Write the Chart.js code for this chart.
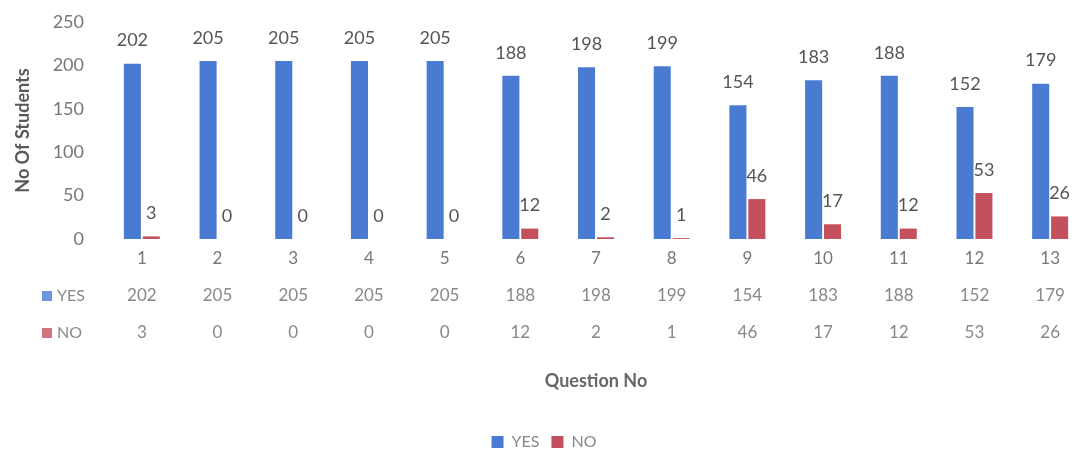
<!DOCTYPE html>
<html>
<head>
<meta charset="utf-8">
<script src="https://cdn.jsdelivr.net/npm/chart.js@4"></script>
<style>
html,body{margin:0;padding:0;background:#fff;}
#wrap{width:1088px;height:460px;position:relative;}
</style>
</head>
<body>
<div id="wrap"><canvas id="c" width="1088" height="460"></canvas></div>
<script>
const questions = ["1","2","3","4","5","6","7","8","9","10","11","12","13"];
const yesValues = [202,205,205,205,205,188,198,199,154,183,188,152,179];
const noValues  = [3,0,0,0,0,12,2,1,46,17,12,53,26];
const yTicks = [0,50,100,150,200,250];
const seriesNames = ["YES","NO"];

const BLUE = '#4a7bd2';
const RED = '#c4505e';
const FONT = 'Lato, "Open Sans", sans-serif';

const dataLabels = {
  id: 'dataLabels',
  afterDatasetsDraw(chart) {
    const ctx = chart.ctx;
    ctx.save();
    ctx.font = '18px ' + FONT;
    ctx.fillStyle = '#555';
    ctx.textAlign = 'center';
    ctx.textBaseline = 'middle';
    chart.data.datasets.forEach((ds, di) => {
      const meta = chart.getDatasetMeta(di);
      meta.data.forEach((el, i) => {
        ctx.fillText(String(ds.data[i]), el.x, el.y - 23);
      });
    });
    ctx.restore();
  }
};

const dataTable = {
  id: 'dataTable',
  afterDraw(chart) {
    const ctx = chart.ctx;
    const xs = chart.scales.x;
    const rows = [
      {name: seriesNames[0], color: BLUE, vals: yesValues, y: 296},
      {name: seriesNames[1], color: RED, vals: noValues, y: 333}
    ];
    ctx.save();
    ctx.textBaseline = 'middle';
    rows.forEach(r => {
      ctx.fillStyle = r.color;
      ctx.globalAlpha = 0.8;
      ctx.fillRect(42, r.y - 5, 10, 10);
      ctx.globalAlpha = 1;
      ctx.fillStyle = '#888';
      ctx.font = '16px ' + FONT;
      ctx.textAlign = 'left';
      ctx.fillText(r.name, 57, r.y);
      ctx.textAlign = 'center';
      ctx.font = '17px ' + FONT;
      r.vals.forEach((v, i) => {
        ctx.fillText(String(v), xs.getPixelForValue(i), r.y);
      });
    });
    ctx.restore();
  }
};

new Chart(document.getElementById('c'), {
  type: 'bar',
  data: {
    labels: questions,
    datasets: [
      {label: seriesNames[0], data: yesValues, backgroundColor: BLUE},
      {label: seriesNames[1], data: noValues, backgroundColor: RED}
    ]
  },
  options: {
    responsive: false,
    animation: false,
    maintainAspectRatio: false,
    layout: {padding: {top: 22, left: 0, right: 0, bottom: 0}},
    datasets: {bar: {categoryPercentage: 0.5, barPercentage: 0.9}},
    plugins: {
      tooltip: {enabled: false},
      legend: {
        position: 'bottom',
        labels: {
          boxWidth: 12, boxHeight: 12, padding: 12,
          color: '#888',
          font: {family: FONT, size: 16}
        }
      }
    },
    scales: {
      y: {
        min: 0, max: 250,
        afterBuildTicks: (s) => { s.ticks = yTicks.map(v => ({value: v})); },
        afterFit: (s) => { s.width = 104; s.paddingTop = 0; s.paddingBottom = 0; },
        grid: {display: false, drawTicks: false},
        border: {display: false},
        ticks: {
          padding: 20,
          color: '#777',
          font: {family: FONT, size: 18}
        },
        title: {
          display: true,
          text: 'No Of Students',
          color: '#595959',
          font: {family: FONT, size: 18, weight: 'bold'},
          padding: {top: 12, bottom: 0}
        }
      },
      x: {
        afterFit: (s) => { s.height = 183; },
        grid: {display: false, drawTicks: false},
        border: {display: false},
        ticks: {
          padding: 9,
          color: '#777',
          maxRotation: 0,
          autoSkip: false,
          font: {family: FONT, size: 17}
        },
        title: {
          display: true,
          text: 'Question No',
          color: '#666',
          font: {family: FONT, size: 18, weight: 'bold'},
          padding: {top: 0, bottom: 30}
        }
      }
    }
  },
  plugins: [dataLabels, dataTable]
});
</script>
</body>
</html>
